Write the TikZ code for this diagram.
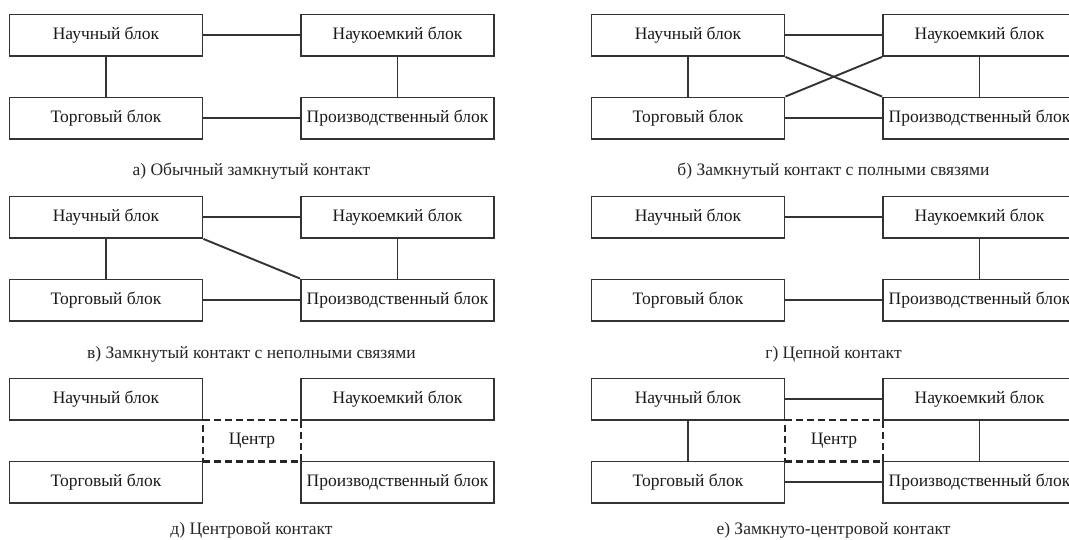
\documentclass[tikz,border=0pt]{standalone}
\usepackage{fontspec}
\setmainfont{Liberation Serif}
\begin{document}
\begin{tikzpicture}[x=1pt,y=-1pt,
  blk/.style={draw=black!80, line width=1.9pt, minimum width=193pt, minimum height=41.5pt, inner sep=0pt, text=black!90, font=\fontsize{17.5}{19}\selectfont},
  ctr/.style={draw=black!85, line width=2.4pt, dash pattern=on 7pt off 4pt, minimum width=98pt, minimum height=41.5pt, inner sep=0pt, text=black!90, font=\fontsize{17.5}{19}\selectfont},
  lnk/.style={draw=black!80, line width=1.9pt},
  captxt/.style={text=black!85, inner sep=0pt, font=\fontsize{17.5}{19}\selectfont}]
\useasboundingbox (0,0) rectangle (1069,540);
\clip (0,0) rectangle (1069,540);
\newcommand{\fourboxes}[3]{%
  \node[blk] (#1n) at (106+#2, 35.25+#3) {Научный блок};
  \node[blk] (#1k) at (397.5+#2, 35.25+#3) {Наукоемкий блок};
  \node[blk] (#1t) at (106+#2, 118.25+#3) {Торговый блок};
  \node[blk] (#1p) at (397.5+#2, 118.25+#3) {Производственный блок};
}
% а
\fourboxes{a}{0}{0}
\draw[lnk] (an) -- (ak);
\draw[lnk] (at) -- (ap);
\draw[lnk] (an) -- (at);
\draw[lnk] (ak) -- (ap);
\node[captxt] (acap) at (251.5, 171) {а) Обычный замкнутый контакт};
% б
\fourboxes{b}{582}{0}
\draw[lnk] (bn) -- (bk);
\draw[lnk] (bt) -- (bp);
\draw[lnk] (bn) -- (bt);
\draw[lnk] (bk) -- (bp);
\draw[lnk] (bn.south east) -- (bp.north west);
\draw[lnk] (bt.north east) -- (bk.south west);
\node[captxt] (bcap) at (833.5, 171) {б) Замкнутый контакт с полными связями};
% в
\fourboxes{c}{0}{182}
\draw[lnk] (cn) -- (ck);
\draw[lnk] (ct) -- (cp);
\draw[lnk] (cn) -- (ct);
\draw[lnk] (ck) -- (cp);
\draw[lnk] (cn.south east) -- (cp.north west);
\node[captxt] (ccap) at (251.5, 354) {в) Замкнутый контакт с неполными связями};
% г
\fourboxes{d}{582}{182}
\draw[lnk] (dn) -- (dk);
\draw[lnk] (dt) -- (dp);
\draw[lnk] (dk) -- (dp);
\node[captxt] (dcap) at (833.5, 354) {г) Цепной контакт};
% д
\fourboxes{e}{0}{364}
\node[ctr] (ec) at (252, 440.75) {Центр};
\node[captxt] (ecap) at (251.5, 530) {д) Центровой контакт};
% е
\fourboxes{f}{582}{364}
\draw[lnk] (fn) -- (fk);
\draw[lnk] (ft) -- (fp);
\draw[lnk] (fn) -- (ft);
\draw[lnk] (fk) -- (fp);
\node[ctr] (fc) at (834, 440.75) {Центр};
\node[captxt] (fcap) at (833.5, 530) {е) Замкнуто-центровой контакт};
\end{tikzpicture}
\end{document}
